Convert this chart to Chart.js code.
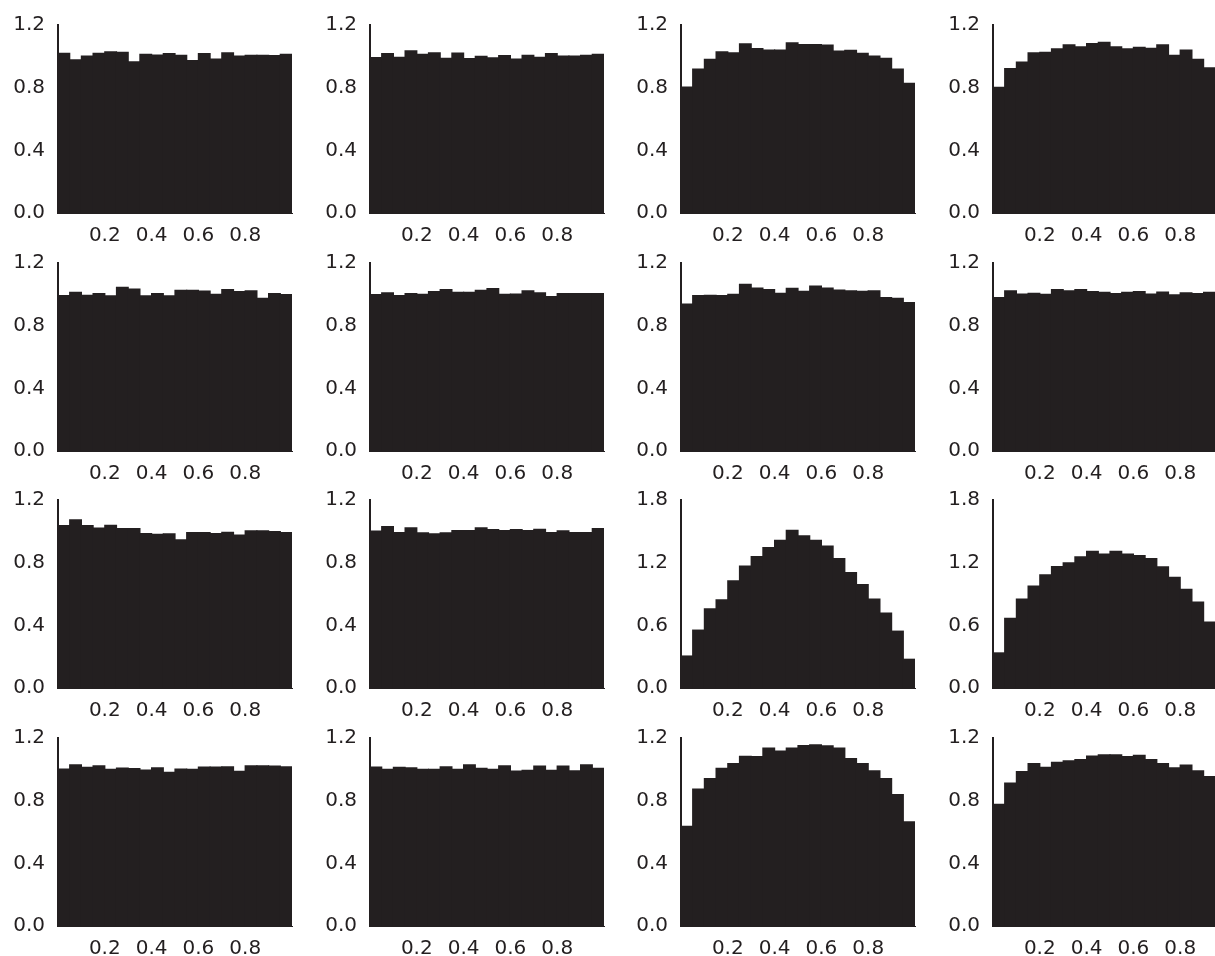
<!DOCTYPE html>
<html>
<head>
<meta charset="utf-8">
<script src="https://cdn.jsdelivr.net/npm/chart.js@4.4.0/dist/chart.umd.min.js"></script>
<style>
  html, body { margin: 0; padding: 0; background: #fff; overflow: hidden; }
  #grid { position: relative; width: 1215px; height: 956px; overflow: hidden; }
  #grid canvas { position: absolute; }
</style>
</head>
<body>
<div id="grid"></div>
<script>
// 20 bins over [0, 1]
const binCenters = [0.025, 0.075, 0.125, 0.175, 0.225, 0.275, 0.325, 0.375, 0.425, 0.475,
                    0.525, 0.575, 0.625, 0.675, 0.725, 0.775, 0.825, 0.875, 0.925, 0.975];
const xTicks = [0.2, 0.4, 0.6, 0.8];
const yTicksLow = [0, 0.4, 0.8, 1.2];
const yTicksHigh = [0, 0.6, 1.2, 1.8];

// row 1
const r1c1 = [1.019, 0.977, 1.002, 1.019, 1.029, 1.025, 0.965, 1.013, 1.008, 1.017, 1.006, 0.973, 1.017, 0.983, 1.023, 1.002, 1.006, 1.006, 1.004, 1.013];
const r1c2 = [0.992, 1.017, 0.994, 1.035, 1.013, 1.023, 0.987, 1.021, 0.985, 1.000, 0.990, 1.004, 0.983, 1.006, 0.994, 1.017, 1.002, 1.002, 1.006, 1.013];
const r1c3 = [0.804, 0.919, 0.981, 1.029, 1.023, 1.079, 1.050, 1.040, 1.040, 1.086, 1.075, 1.075, 1.071, 1.033, 1.038, 1.019, 1.002, 0.987, 0.919, 0.827];
const r1c4 = [0.802, 0.921, 0.963, 1.022, 1.026, 1.047, 1.074, 1.060, 1.081, 1.089, 1.060, 1.047, 1.058, 1.051, 1.074, 1.007, 1.039, 0.980, 0.926, 0.820];
// row 2
const r2c1 = [0.992, 1.013, 0.994, 1.004, 0.990, 1.044, 1.033, 0.990, 1.004, 0.990, 1.025, 1.025, 1.021, 1.000, 1.031, 1.017, 1.023, 0.975, 1.004, 0.998];
const r2c2 = [0.998, 1.010, 0.992, 1.004, 1.000, 1.017, 1.031, 1.013, 1.013, 1.025, 1.036, 1.000, 1.002, 1.023, 1.010, 0.985, 1.004, 1.004, 1.004, 1.004];
const r2c3 = [0.937, 0.992, 0.994, 0.992, 1.000, 1.063, 1.040, 1.031, 1.006, 1.038, 1.019, 1.052, 1.040, 1.027, 1.023, 1.019, 1.023, 0.979, 0.975, 0.948];
const r2c4 = [0.979, 1.023, 1.002, 1.006, 1.000, 1.031, 1.023, 1.031, 1.017, 1.013, 1.004, 1.013, 1.017, 1.002, 1.015, 0.996, 1.010, 1.004, 1.013, 1.000];
// row 3
const r3c1 = [1.036, 1.073, 1.036, 1.021, 1.038, 1.017, 1.017, 0.986, 0.980, 0.984, 0.945, 0.992, 0.992, 0.986, 0.994, 0.976, 1.003, 1.003, 0.999, 0.992];
const r3c2 = [1.001, 1.030, 0.992, 1.023, 0.990, 0.984, 0.990, 1.005, 1.005, 1.023, 1.011, 1.005, 1.011, 1.005, 1.013, 0.992, 1.003, 0.992, 0.992, 1.017];
const r3c3 = [0.306, 0.554, 0.758, 0.844, 1.027, 1.166, 1.259, 1.345, 1.414, 1.509, 1.457, 1.414, 1.358, 1.240, 1.104, 0.990, 0.851, 0.718, 0.544, 0.275];
const r3c4 = [0.336, 0.666, 0.850, 0.975, 1.084, 1.162, 1.199, 1.255, 1.308, 1.283, 1.308, 1.283, 1.268, 1.240, 1.159, 1.059, 0.944, 0.822, 0.632, 0.320];
// row 4
const r4c1 = [1.002, 1.029, 1.012, 1.023, 1.000, 1.008, 1.004, 0.995, 1.010, 0.981, 1.002, 1.000, 1.014, 1.014, 1.016, 0.987, 1.023, 1.023, 1.020, 1.016];
const r4c2 = [1.014, 1.000, 1.012, 1.010, 1.000, 1.000, 1.016, 1.000, 1.029, 1.006, 1.000, 1.023, 0.989, 0.993, 1.020, 0.993, 1.020, 0.991, 1.029, 1.006];
const r4c3 = [0.636, 0.874, 0.941, 1.006, 1.037, 1.083, 1.081, 1.135, 1.116, 1.135, 1.152, 1.156, 1.150, 1.135, 1.068, 1.037, 0.991, 0.941, 0.839, 0.664];
const r4c4 = [0.776, 0.912, 0.985, 1.037, 1.012, 1.045, 1.054, 1.062, 1.085, 1.093, 1.093, 1.081, 1.089, 1.062, 1.037, 1.010, 1.027, 0.991, 0.954, 0.780];

const panels = [
  [r1c1, r1c2, r1c3, r1c4],
  [r2c1, r2c2, r2c3, r2c4],
  [r3c1, r3c2, r3c3, r3c4],
  [r4c1, r4c2, r4c3, r4c4],
];
const panelTicks = [
  [yTicksLow, yTicksLow, yTicksLow, yTicksLow],
  [yTicksLow, yTicksLow, yTicksLow, yTicksLow],
  [yTicksLow, yTicksLow, yTicksHigh, yTicksHigh],
  [yTicksLow, yTicksLow, yTicksLow, yTicksLow],
];

const ink = '#231f20';
const font = { family: 'DejaVu Sans', size: 20 };
const colStep = 311.7, rowStep = 237.7;
const axisW = 58, plotW = 234, plotH = 192, padTop = 21, xAxisH = 40, padRight = 2;

const grid = document.getElementById('grid');

panels.forEach(function(row, r) {
  row.forEach(function(vals, c) {
    let yt = panelTicks[r][c];
    let canvas = document.createElement('canvas');
    canvas.width = axisW + plotW + padRight;
    canvas.height = padTop + plotH + xAxisH;
    canvas.style.left = Math.round(c * colStep) + 'px';
    canvas.style.top = Math.round(r * rowStep) + 'px';
    grid.appendChild(canvas);

    new Chart(canvas, {
      type: 'bar',
      data: {
        datasets: [{
          data: binCenters.map((x, i) => ({ x: x, y: vals[i] })),
          backgroundColor: ink,
          borderWidth: 0,
          inflateAmount: 0.6,
          barPercentage: 1,
          categoryPercentage: 1,
        }],
      },
      options: {
        responsive: false,
        animation: false,
        layout: { padding: { top: padTop, right: padRight, bottom: 0, left: 0 } },
        plugins: { legend: { display: false }, tooltip: { enabled: false } },
        scales: {
          x: {
            type: 'linear',
            min: 0,
            max: 1,
            offset: false,
            grid: { display: false, drawTicks: false },
            border: { display: true, color: ink, width: 1 },
            ticks: { padding: 11, color: ink, font: font, maxRotation: 0, autoSkip: false,
                     callback: (v) => Number(v).toFixed(1) },
            afterBuildTicks: (s) => { s.ticks = xTicks.map((v) => ({ value: v })); },
            afterFit: (s) => { s.height = xAxisH; },
          },
          y: {
            min: 0,
            max: yt[yt.length - 1],
            grid: { display: false, drawTicks: false },
            border: { display: true, color: ink, width: 2 },
            ticks: { padding: 13, color: ink, font: font,
                     callback: (v) => Number(v).toFixed(1) },
            afterBuildTicks: (s) => { s.ticks = yt.map((v) => ({ value: v })); },
            afterFit: (s) => { s.width = axisW; },
          },
        },
      },
    });
  });
});
</script>
</body>
</html>
